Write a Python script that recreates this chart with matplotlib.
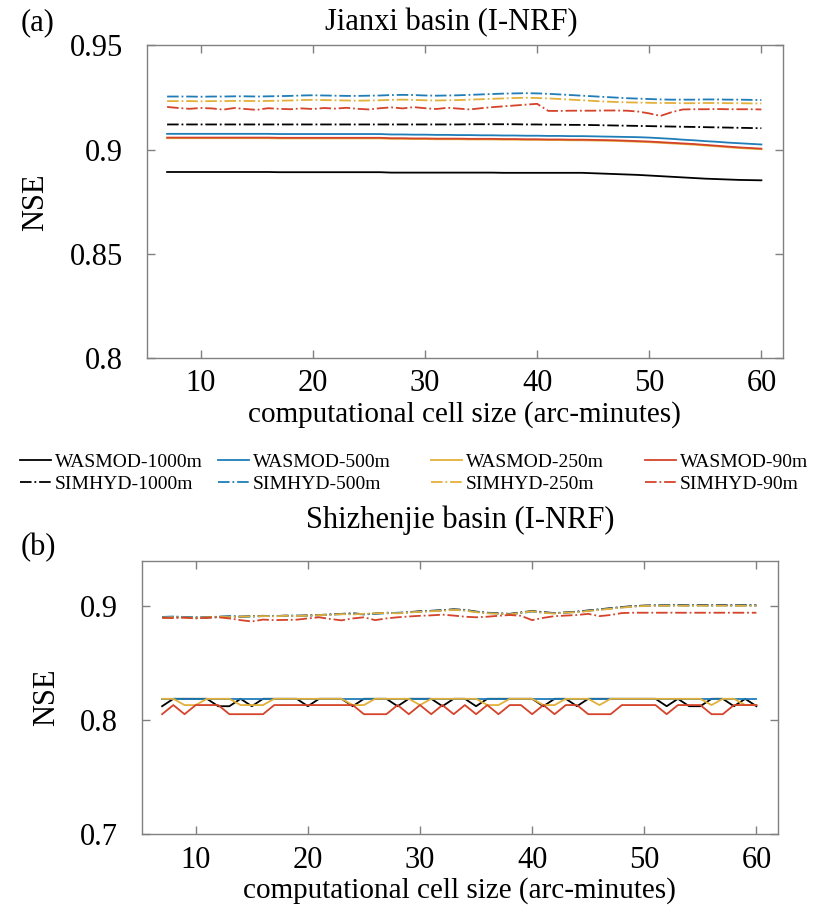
import matplotlib
matplotlib.use("Agg")
import matplotlib.pyplot as plt
from matplotlib.lines import Line2D

plt.rcParams['font.family'] = ['Liberation Serif', 'DejaVu Serif']

# ---------------- data ----------------
cell_size = [7, 8, 9, 10, 11, 12, 13, 14, 15, 16, 17, 18, 19, 20, 21, 22, 23, 24,
             25, 26, 27, 28, 29, 30, 31, 32, 33, 34, 35, 36, 37, 38, 39, 40, 41, 42,
             43, 44, 45, 46, 47, 48, 49, 50, 51, 52, 53, 54, 55, 56, 57, 58, 59, 60]

series_names = ['WASMOD-1000m', 'WASMOD-500m', 'WASMOD-250m', 'WASMOD-90m',
                'SIMHYD-1000m', 'SIMHYD-500m', 'SIMHYD-250m', 'SIMHYD-90m']

# (a) Jianxi basin
jx_wasmod_1000 = [0.8893, 0.8893, 0.8893, 0.8893, 0.8893, 0.8893, 0.8893, 0.8893, 0.8893, 0.8893,
                  0.8892, 0.8892, 0.8892, 0.8892, 0.8892, 0.8892, 0.8892, 0.8892, 0.8892, 0.8892,
                  0.8890, 0.8890, 0.8890, 0.8890, 0.8890, 0.8890, 0.8890, 0.8890, 0.8890, 0.8890,
                  0.8889, 0.8889, 0.8889, 0.8889, 0.8889, 0.8889, 0.8889, 0.8889,
                  0.8887, 0.8885, 0.8883, 0.8881, 0.8879, 0.8876,
                  0.8873, 0.8870, 0.8867, 0.8864, 0.8861, 0.8859, 0.8857, 0.8855, 0.8854, 0.8853]
jx_wasmod_500 = [0.9076, 0.9076, 0.9076, 0.9076, 0.9076, 0.9076, 0.9076, 0.9076, 0.9076, 0.9076,
                 0.9075, 0.9075, 0.9075, 0.9075, 0.9075, 0.9075, 0.9075, 0.9075, 0.9075, 0.9075,
                 0.9073, 0.9073, 0.9072, 0.9072, 0.9071, 0.9071, 0.9070, 0.9070, 0.9069, 0.9069,
                 0.9068, 0.9068, 0.9067, 0.9067, 0.9066, 0.9066, 0.9065, 0.9065,
                 0.9064, 0.9063, 0.9062, 0.9061, 0.9060, 0.9058,
                 0.9055, 0.9052, 0.9048, 0.9045, 0.9041, 0.9038, 0.9034, 0.9031, 0.9028, 0.9025]
jx_wasmod_250 = [0.9055, 0.9055, 0.9055, 0.9055, 0.9055, 0.9055, 0.9055, 0.9055, 0.9055, 0.9055,
                 0.9054, 0.9054, 0.9054, 0.9054, 0.9054, 0.9054, 0.9054, 0.9054, 0.9054, 0.9054,
                 0.9052, 0.9052, 0.9051, 0.9051, 0.9050, 0.9050, 0.9050, 0.9049, 0.9049, 0.9049,
                 0.9048, 0.9048, 0.9047, 0.9047, 0.9046, 0.9046, 0.9045, 0.9045,
                 0.9044, 0.9043, 0.9042, 0.9040, 0.9038, 0.9036,
                 0.9033, 0.9030, 0.9027, 0.9024, 0.9020, 0.9016, 0.9012, 0.9008, 0.9005, 0.9002]
jx_wasmod_90 = [0.9058, 0.9058, 0.9058, 0.9058, 0.9058, 0.9058, 0.9058, 0.9058, 0.9058, 0.9058,
                0.9057, 0.9057, 0.9057, 0.9057, 0.9057, 0.9057, 0.9057, 0.9057, 0.9057, 0.9057,
                0.9055, 0.9055, 0.9054, 0.9054, 0.9053, 0.9053, 0.9053, 0.9052, 0.9052, 0.9052,
                0.9051, 0.9051, 0.9050, 0.9050, 0.9049, 0.9049, 0.9048, 0.9048,
                0.9047, 0.9046, 0.9045, 0.9043, 0.9041, 0.9039,
                0.9036, 0.9033, 0.9030, 0.9027, 0.9023, 0.9019, 0.9015, 0.9011, 0.9008, 0.9005]
jx_simhyd_1000 = [0.9121, 0.9121, 0.9121, 0.9121, 0.9121, 0.9121, 0.9121, 0.9121, 0.9121, 0.9121,
                  0.9121, 0.9121, 0.9121, 0.9121, 0.9121, 0.9121, 0.9121, 0.9121, 0.9121, 0.9121,
                  0.9121, 0.9121, 0.9121, 0.9121, 0.9121, 0.9121, 0.9121, 0.9122, 0.9122, 0.9122,
                  0.9122, 0.9122, 0.9121, 0.9121, 0.9120, 0.9120, 0.9119, 0.9119,
                  0.9118, 0.9117, 0.9116, 0.9115, 0.9114, 0.9113,
                  0.9112, 0.9111, 0.9110, 0.9109, 0.9108, 0.9107, 0.9106, 0.9105, 0.9104, 0.9103]
jx_simhyd_500 = [0.9255, 0.9255, 0.9255, 0.9254, 0.9255, 0.9255, 0.9256, 0.9256, 0.9255, 0.9256,
                 0.9257, 0.9258, 0.9260, 0.9261, 0.9260, 0.9259, 0.9258, 0.9258, 0.9259, 0.9260,
                 0.9262, 0.9263, 0.9262, 0.9260, 0.9259, 0.9260, 0.9261, 0.9263, 0.9265, 0.9267,
                 0.9269, 0.9270, 0.9271, 0.9270, 0.9268, 0.9265, 0.9262, 0.9259,
                 0.9256, 0.9253, 0.9250, 0.9247, 0.9245, 0.9243,
                 0.9241, 0.9240, 0.9240, 0.9240, 0.9241, 0.9241, 0.9240, 0.9240, 0.9239, 0.9238]
jx_simhyd_250 = [0.9233, 0.9233, 0.9233, 0.9232, 0.9233, 0.9233, 0.9234, 0.9234, 0.9233, 0.9234,
                 0.9235, 0.9236, 0.9238, 0.9239, 0.9238, 0.9237, 0.9236, 0.9235, 0.9236, 0.9237,
                 0.9239, 0.9240, 0.9239, 0.9237, 0.9236, 0.9237, 0.9238, 0.9240, 0.9242, 0.9244,
                 0.9246, 0.9248, 0.9249, 0.9248, 0.9246, 0.9243, 0.9240, 0.9237,
                 0.9234, 0.9231, 0.9229, 0.9227, 0.9226, 0.9225,
                 0.9224, 0.9224, 0.9223, 0.9223, 0.9224, 0.9224, 0.9223, 0.9223, 0.9222, 0.9222]
jx_simhyd_90 = [0.9205, 0.9200, 0.9196, 0.9200, 0.9198, 0.9192, 0.9200, 0.9195, 0.9191, 0.9199,
                0.9196, 0.9194, 0.9198, 0.9195, 0.9200, 0.9197, 0.9201, 0.9196, 0.9193, 0.9199,
                0.9203, 0.9198, 0.9204, 0.9199, 0.9195, 0.9201, 0.9197, 0.9193, 0.9199, 0.9204,
                0.9208, 0.9212, 0.9216, 0.9220, 0.9186, 0.9186, 0.9187, 0.9187,
                0.9187, 0.9188, 0.9188, 0.9187, 0.9183, 0.9174,
                0.9162, 0.9180, 0.9193, 0.9194, 0.9194, 0.9195, 0.9194, 0.9194, 0.9194, 0.9193]

# (b) Shizhenjie basin
sz_wasmod_1000 = [0.8125, 0.819, 0.819, 0.819, 0.819, 0.8125, 0.8125, 0.819, 0.8125, 0.819,
                  0.819, 0.819, 0.819, 0.8125, 0.819, 0.819, 0.819, 0.8125, 0.819, 0.819,
                  0.819, 0.8125, 0.819, 0.819, 0.819, 0.8125, 0.819, 0.819, 0.8125, 0.819,
                  0.819, 0.819, 0.819, 0.819, 0.8125, 0.819, 0.819, 0.8125,
                  0.819, 0.819, 0.819, 0.819, 0.819, 0.819,
                  0.819, 0.8125, 0.819, 0.8125, 0.8125, 0.819, 0.819, 0.8125, 0.819, 0.8125]
sz_wasmod_500 = [0.819, 0.819, 0.819, 0.819, 0.819, 0.819, 0.819, 0.819, 0.819, 0.819,
                 0.819, 0.819, 0.819, 0.819, 0.819, 0.819, 0.819, 0.819, 0.819, 0.819,
                 0.819, 0.819, 0.819, 0.819, 0.819, 0.819, 0.819, 0.819, 0.819, 0.819,
                 0.819, 0.819, 0.819, 0.819, 0.819, 0.819, 0.819, 0.819,
                 0.819, 0.819, 0.819, 0.819, 0.819, 0.819,
                 0.819, 0.819, 0.819, 0.819, 0.819, 0.819, 0.819, 0.819, 0.819, 0.819]
sz_wasmod_250 = [0.819, 0.819, 0.8135, 0.8135, 0.819, 0.819, 0.819, 0.8135, 0.8135, 0.8135,
                 0.819, 0.819, 0.819, 0.819, 0.819, 0.819, 0.819, 0.8135, 0.8135, 0.819,
                 0.819, 0.819, 0.819, 0.8135, 0.819, 0.819, 0.819, 0.819, 0.819, 0.8135,
                 0.8135, 0.819, 0.819, 0.819, 0.8135, 0.8135, 0.819, 0.819,
                 0.819, 0.8135, 0.819, 0.819, 0.819, 0.819,
                 0.819, 0.819, 0.819, 0.819, 0.819, 0.8135, 0.819, 0.819, 0.8135, 0.8135]
sz_wasmod_90 = [0.8055, 0.8135, 0.8055, 0.8135, 0.8135, 0.8135, 0.8055, 0.8055, 0.8055, 0.8055,
                0.8135, 0.8135, 0.8135, 0.8135, 0.8135, 0.8135, 0.8135, 0.8135, 0.8055, 0.8055,
                0.8055, 0.8135, 0.8055, 0.8135, 0.8055, 0.8135, 0.8055, 0.8135, 0.8055, 0.8135,
                0.8055, 0.8135, 0.8135, 0.8055, 0.8135, 0.8055, 0.8135, 0.8135,
                0.8055, 0.8055, 0.8055, 0.8135, 0.8135, 0.8135,
                0.8135, 0.8055, 0.8135, 0.8135, 0.8135, 0.8055, 0.8055, 0.8135, 0.8135, 0.8135]
sz_simhyd_1000 = [0.8905, 0.8908, 0.8905, 0.8902, 0.8905, 0.8910, 0.8912, 0.8910, 0.8915, 0.8918,
                  0.8915, 0.8920, 0.8918, 0.8922, 0.8925, 0.8930, 0.8935, 0.8940, 0.8932, 0.8938,
                  0.8945, 0.8942, 0.8950, 0.8958, 0.8962, 0.8968, 0.8975, 0.8970, 0.8955, 0.8945,
                  0.8940, 0.8935, 0.8948, 0.8960, 0.8950, 0.8942, 0.8948, 0.8955,
                  0.8965, 0.8975, 0.8985, 0.8995, 0.9003, 0.9008,
                  0.9010, 0.9010, 0.9012, 0.9010, 0.9012, 0.9010, 0.9012, 0.9010, 0.9011, 0.9010]
sz_simhyd_500 = [0.8908, 0.8912, 0.8908, 0.8905, 0.8903, 0.8908, 0.8914, 0.8912, 0.8910, 0.8915,
                 0.8918, 0.8916, 0.8920, 0.8917, 0.8922, 0.8928, 0.8932, 0.8936, 0.8930, 0.8935,
                 0.8940, 0.8945, 0.8948, 0.8955, 0.8960, 0.8965, 0.8972, 0.8966, 0.8952, 0.8942,
                 0.8938, 0.8932, 0.8942, 0.8955, 0.8946, 0.8940, 0.8945, 0.8952,
                 0.8962, 0.8972, 0.8982, 0.8992, 0.9000, 0.9005,
                 0.9008, 0.9008, 0.9009, 0.9008, 0.9009, 0.9008, 0.9009, 0.9008, 0.9008, 0.9008]
sz_simhyd_250 = [0.8902, 0.8905, 0.8903, 0.8900, 0.8904, 0.8909, 0.8906, 0.8911, 0.8913, 0.8916,
                 0.8913, 0.8918, 0.8916, 0.8919, 0.8924, 0.8927, 0.8933, 0.8930, 0.8936, 0.8940,
                 0.8943, 0.8940, 0.8947, 0.8953, 0.8958, 0.8962, 0.8970, 0.8964, 0.8950, 0.8940,
                 0.8936, 0.8930, 0.8945, 0.8957, 0.8944, 0.8938, 0.8946, 0.8950,
                 0.8960, 0.8970, 0.8980, 0.8990, 0.8998, 0.9004,
                 0.9006, 0.9006, 0.9007, 0.9006, 0.9007, 0.9006, 0.9007, 0.9006, 0.9006, 0.9006]
sz_simhyd_90 = [0.8900, 0.8898, 0.8902, 0.8895, 0.8900, 0.8905, 0.8895, 0.8880, 0.8868, 0.8885,
                0.8880, 0.8882, 0.8884, 0.8895, 0.8905, 0.8890, 0.8878, 0.8895, 0.8905, 0.8880,
                0.8895, 0.8905, 0.8912, 0.8918, 0.8922, 0.8928, 0.8920, 0.8910, 0.8905, 0.8910,
                0.8918, 0.8925, 0.8918, 0.8880, 0.8900, 0.8915, 0.8920, 0.8925,
                0.8935, 0.8915, 0.8925, 0.8942, 0.8945, 0.8945,
                0.8945, 0.8945, 0.8945, 0.8945, 0.8945, 0.8945, 0.8945, 0.8945, 0.8945, 0.8945]

# ---------------- styling ----------------
colors = ['#000000', '#1F7DB8', '#E3B03A', '#D4432A',
          '#000000', '#1F7DB8', '#E3B03A', '#D4432A']
styles = ['-', '-', '-', '-', '-.', '-.', '-.', '-.']

jx_series = [jx_wasmod_1000, jx_wasmod_500, jx_wasmod_250, jx_wasmod_90,
             jx_simhyd_1000, jx_simhyd_500, jx_simhyd_250, jx_simhyd_90]
sz_series = [sz_wasmod_1000, sz_wasmod_500, sz_wasmod_250, sz_wasmod_90,
             sz_simhyd_1000, sz_simhyd_500, sz_simhyd_250, sz_simhyd_90]

fig = plt.figure(figsize=(8.30, 9.09), dpi=100)
ax1 = fig.add_axes([0.177, 0.606, 0.766, 0.344])
ax2 = fig.add_axes([0.171, 0.082, 0.766, 0.301])

spine_col = '#808080'
def style_axes(ax):
    for s in ax.spines.values():
        s.set_color(spine_col)
        s.set_linewidth(1.0)
    ax.tick_params(direction='in', length=6, width=1.0, color=spine_col,
                   top=True, right=True, labelsize=22, labelcolor='black')
    ax.tick_params(axis='x', pad=8)
    ax.tick_params(axis='y', pad=17)
    ax.set_xlim(5.2, 61.9)
    ax.set_xticks([10, 20, 30, 40, 50, 60])

panel_specs = [
    (ax1, jx_series, 'Jianxi basin (I-NRF)', (0.8, 0.95), [0.8, 0.85, 0.9, 0.95], 0.478, 11),
    (ax2, sz_series, 'Shizhenjie basin (I-NRF)', (0.7, 0.94), [0.7, 0.8, 0.9], 0.5, 24),
]
for ax, data, title, ylim, yticks, tx, tpad in panel_specs:
    for vals, c, ls, name in zip(data, colors, styles, series_names):
        ax.plot(cell_size, vals, color=c, linestyle=ls, linewidth=1.3, label=name)
    style_axes(ax)
    ax.set_ylim(*ylim)
    ax.set_yticks(yticks)
    ax.set_yticklabels([('%g' % v) for v in yticks])
    ax.set_title(title, fontsize=22, pad=tpad, x=tx)
    ax.set_ylabel('NSE', fontsize=22, labelpad=14)
    ax.set_xlabel('computational cell size (arc-minutes)', fontsize=21, labelpad=2)

fig.text(0.025, 0.975, '(a)', fontsize=22, va='center', ha='left')
fig.text(0.025, 0.398, '(b)', fontsize=22, va='center', ha='left')

handles = [Line2D([0], [0], color=c, linestyle=ls, linewidth=1.3)
           for c, ls in zip(colors, styles)]
col_x = [20, 218, 431, 645]
for k, xpx in enumerate(col_x):
    idx = [k, k + 4]
    fig.legend([handles[i] for i in idx], [series_names[i] for i in idx],
               loc='center left', bbox_to_anchor=(xpx / 830, 1 - 473 / 909),
               frameon=False, fontsize=14, handlelength=1.6, handletextpad=0.2,
               labelspacing=0.25, borderpad=0, borderaxespad=0)

fig.savefig('out.png', dpi=100)
